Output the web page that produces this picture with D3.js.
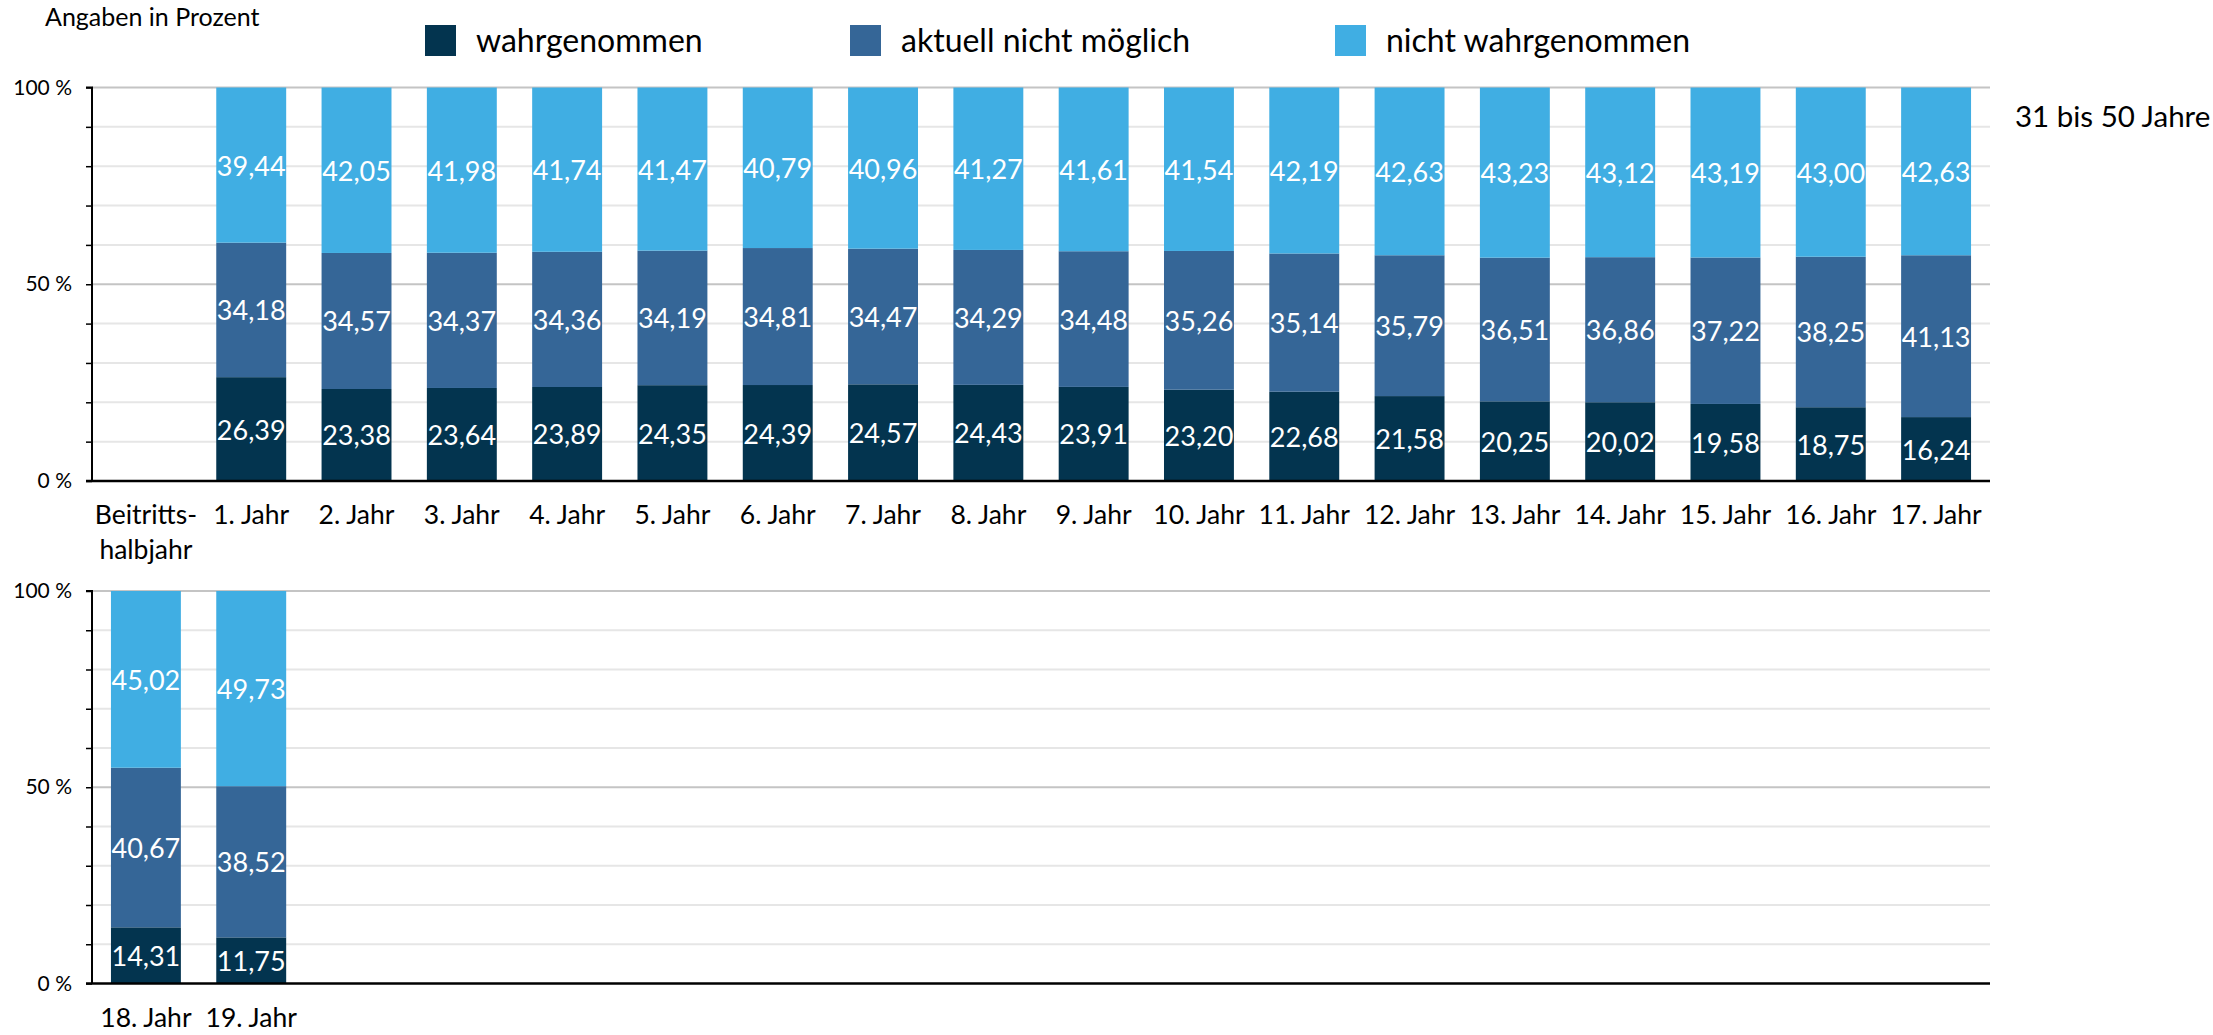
<!DOCTYPE html>
<html>
<head>
<meta charset="utf-8">
<script src="https://cdn.jsdelivr.net/npm/d3@7"></script>
<style>
  html, body { margin: 0; padding: 0; background: #fff; }
  svg { display: block; }
  text { font-family: Lato, "Open Sans", sans-serif; }
</style>
</head>
<body>
<script>
// ---------- DATA ----------
const seriesNames = ["wahrgenommen", "aktuell nicht möglich", "nicht wahrgenommen"];
const seriesColors = ["#03344f", "#356697", "#40aee3"];

const topCategories = ["Beitrittshalbjahr", "1. Jahr", "2. Jahr", "3. Jahr", "4. Jahr", "5. Jahr", "6. Jahr",
  "7. Jahr", "8. Jahr", "9. Jahr", "10. Jahr", "11. Jahr", "12. Jahr", "13. Jahr", "14. Jahr",
  "15. Jahr", "16. Jahr", "17. Jahr"];
const topWahrgenommen = [null, 26.39, 23.38, 23.64, 23.89, 24.35, 24.39, 24.57, 24.43, 23.91, 23.20, 22.68, 21.58, 20.25, 20.02, 19.58, 18.75, 16.24];
const topAktuell      = [null, 34.18, 34.57, 34.37, 34.36, 34.19, 34.81, 34.47, 34.29, 34.48, 35.26, 35.14, 35.79, 36.51, 36.86, 37.22, 38.25, 41.13];
const topNicht        = [null, 39.44, 42.05, 41.98, 41.74, 41.47, 40.79, 40.96, 41.27, 41.61, 41.54, 42.19, 42.63, 43.23, 43.12, 43.19, 43.00, 42.63];

const bottomCategories = ["18. Jahr", "19. Jahr"];
const bottomWahrgenommen = [14.31, 11.75];
const bottomAktuell      = [40.67, 38.52];
const bottomNicht        = [45.02, 49.73];

const yTicks = [0, 10, 20, 30, 40, 50, 60, 70, 80, 90, 100];
const yLabelTicks = [0, 50, 100];
const unitLabel = "Angaben in Prozent";
const groupLabel = "31 bis 50 Jahre";

// ---------- LAYOUT ----------
const W = 2213, H = 1035;
const svg = d3.select("body").append("svg").attr("width", W).attr("height", H);

const xLeft = 92, xRight = 1990;
const slotCount = topCategories.length; // both panels share slot layout

const fmt = v => d3.format(".2f")(v).replace(".", ",");

function drawPanel(cats, wahr, akt, nicht, yTop, yBottom, allSlots) {
  const g = svg.append("g");
  const x = d3.scaleBand().domain(allSlots).range([xLeft, xRight]).paddingInner(0.336).paddingOuter(0.18);
  const y = d3.scaleLinear().domain([0, 100]).range([yBottom, yTop]);

  // gridlines
  g.selectAll("line.grid").data(yTicks.filter(t => t > 0)).join("line")
    .attr("x1", xLeft).attr("x2", xRight)
    .attr("y1", d => y(d)).attr("y2", d => y(d))
    .attr("stroke", d => (d % 50 === 0) ? "#c4c4c4" : "#e6e6e6")
    .attr("stroke-width", 2);

  // stacked data
  const rows = cats.map((c, i) => ({ cat: c, v: [wahr[i], akt[i], nicht[i]] })).filter(r => r.v[0] != null);
  const stackData = rows.map(r => ({ cat: r.cat, s0: r.v[0], s1: r.v[1], s2: r.v[2] }));
  const stack = d3.stack().keys(["s0", "s1", "s2"])(stackData);

  stack.forEach((layer, li) => {
    const lg = g.append("g");
    lg.selectAll("rect").data(layer).join("rect")
      .attr("x", d => x(d.data.cat))
      .attr("width", x.bandwidth())
      .attr("y", d => y(Math.min(100, d[1])))
      .attr("height", d => y(d[0]) - y(Math.min(100, d[1])))
      .attr("fill", seriesColors[li]);
    lg.selectAll("text").data(layer).join("text")
      .attr("x", d => x(d.data.cat) + x.bandwidth() / 2)
      .attr("y", d => (y(d[0]) + y(Math.min(100, d[1]))) / 2)
      .attr("text-anchor", "middle")
      .attr("dominant-baseline", "central")
      .attr("fill", "#fff")
      .attr("font-size", 27)
      .text(d => fmt(d[1] - d[0]));
  });

  // y axis
  const yAxis = d3.axisLeft(y).tickValues(yTicks).tickSize(6).tickPadding(14)
    .tickFormat(d => yLabelTicks.includes(d) ? d + " %" : "");
  const ya = g.append("g").attr("transform", `translate(${xLeft},0)`).call(yAxis);
  ya.select(".domain").attr("stroke", "#000").attr("stroke-width", 2).attr("d", `M-6,${yTop}H0V${yBottom}`);
  ya.selectAll(".tick line").attr("stroke", "#000").attr("stroke-width", 1.5);
  ya.selectAll(".tick text").attr("font-size", 21).attr("fill", "#000").attr("font-family", "Lato, sans-serif");

  // x baseline
  g.append("line").attr("x1", xLeft - 6).attr("x2", xRight)
    .attr("y1", yBottom).attr("y2", yBottom).attr("stroke", "#000").attr("stroke-width", 2.5);

  // category labels
  const labelG = g.append("g");
  cats.forEach(c => {
    const cx = x(c) + x.bandwidth() / 2;
    const t = labelG.append("text").attr("x", cx).attr("y", yBottom + 43)
      .attr("text-anchor", "middle").attr("font-size", 26.5).attr("fill", "#000");
    if (c === "Beitrittshalbjahr") {
      t.append("tspan").attr("x", cx).attr("dy", 0).text("Beitritts-");
      t.append("tspan").attr("x", cx).attr("dy", 35).text("halbjahr");
    } else {
      t.text(c);
    }
  });
}

// top panel
drawPanel(topCategories, topWahrgenommen, topAktuell, topNicht, 87.5, 481, topCategories);
// bottom panel: same slot layout, first two slots used
const bottomSlots = bottomCategories.concat(d3.range(slotCount - bottomCategories.length).map(i => "slot" + i));
drawPanel(bottomCategories, bottomWahrgenommen, bottomAktuell, bottomNicht, 591, 983.5, bottomSlots);

// unit label
svg.append("text").attr("x", 45).attr("y", 26).attr("font-size", 25).attr("fill", "#000").text(unitLabel);

// group label
svg.append("text").attr("x", 2015).attr("y", 127).attr("font-size", 29.5).attr("fill", "#000").text(groupLabel);

// legend
const legendX = [425, 850, 1335];
const lg = svg.append("g");
seriesNames.forEach((n, i) => {
  lg.append("rect").attr("x", legendX[i]).attr("y", 25).attr("width", 31).attr("height", 31).attr("fill", seriesColors[i]);
  lg.append("text").attr("x", legendX[i] + 51).attr("y", 52).attr("font-size", 32).attr("fill", "#000").text(n);
});
</script>
</body>
</html>
